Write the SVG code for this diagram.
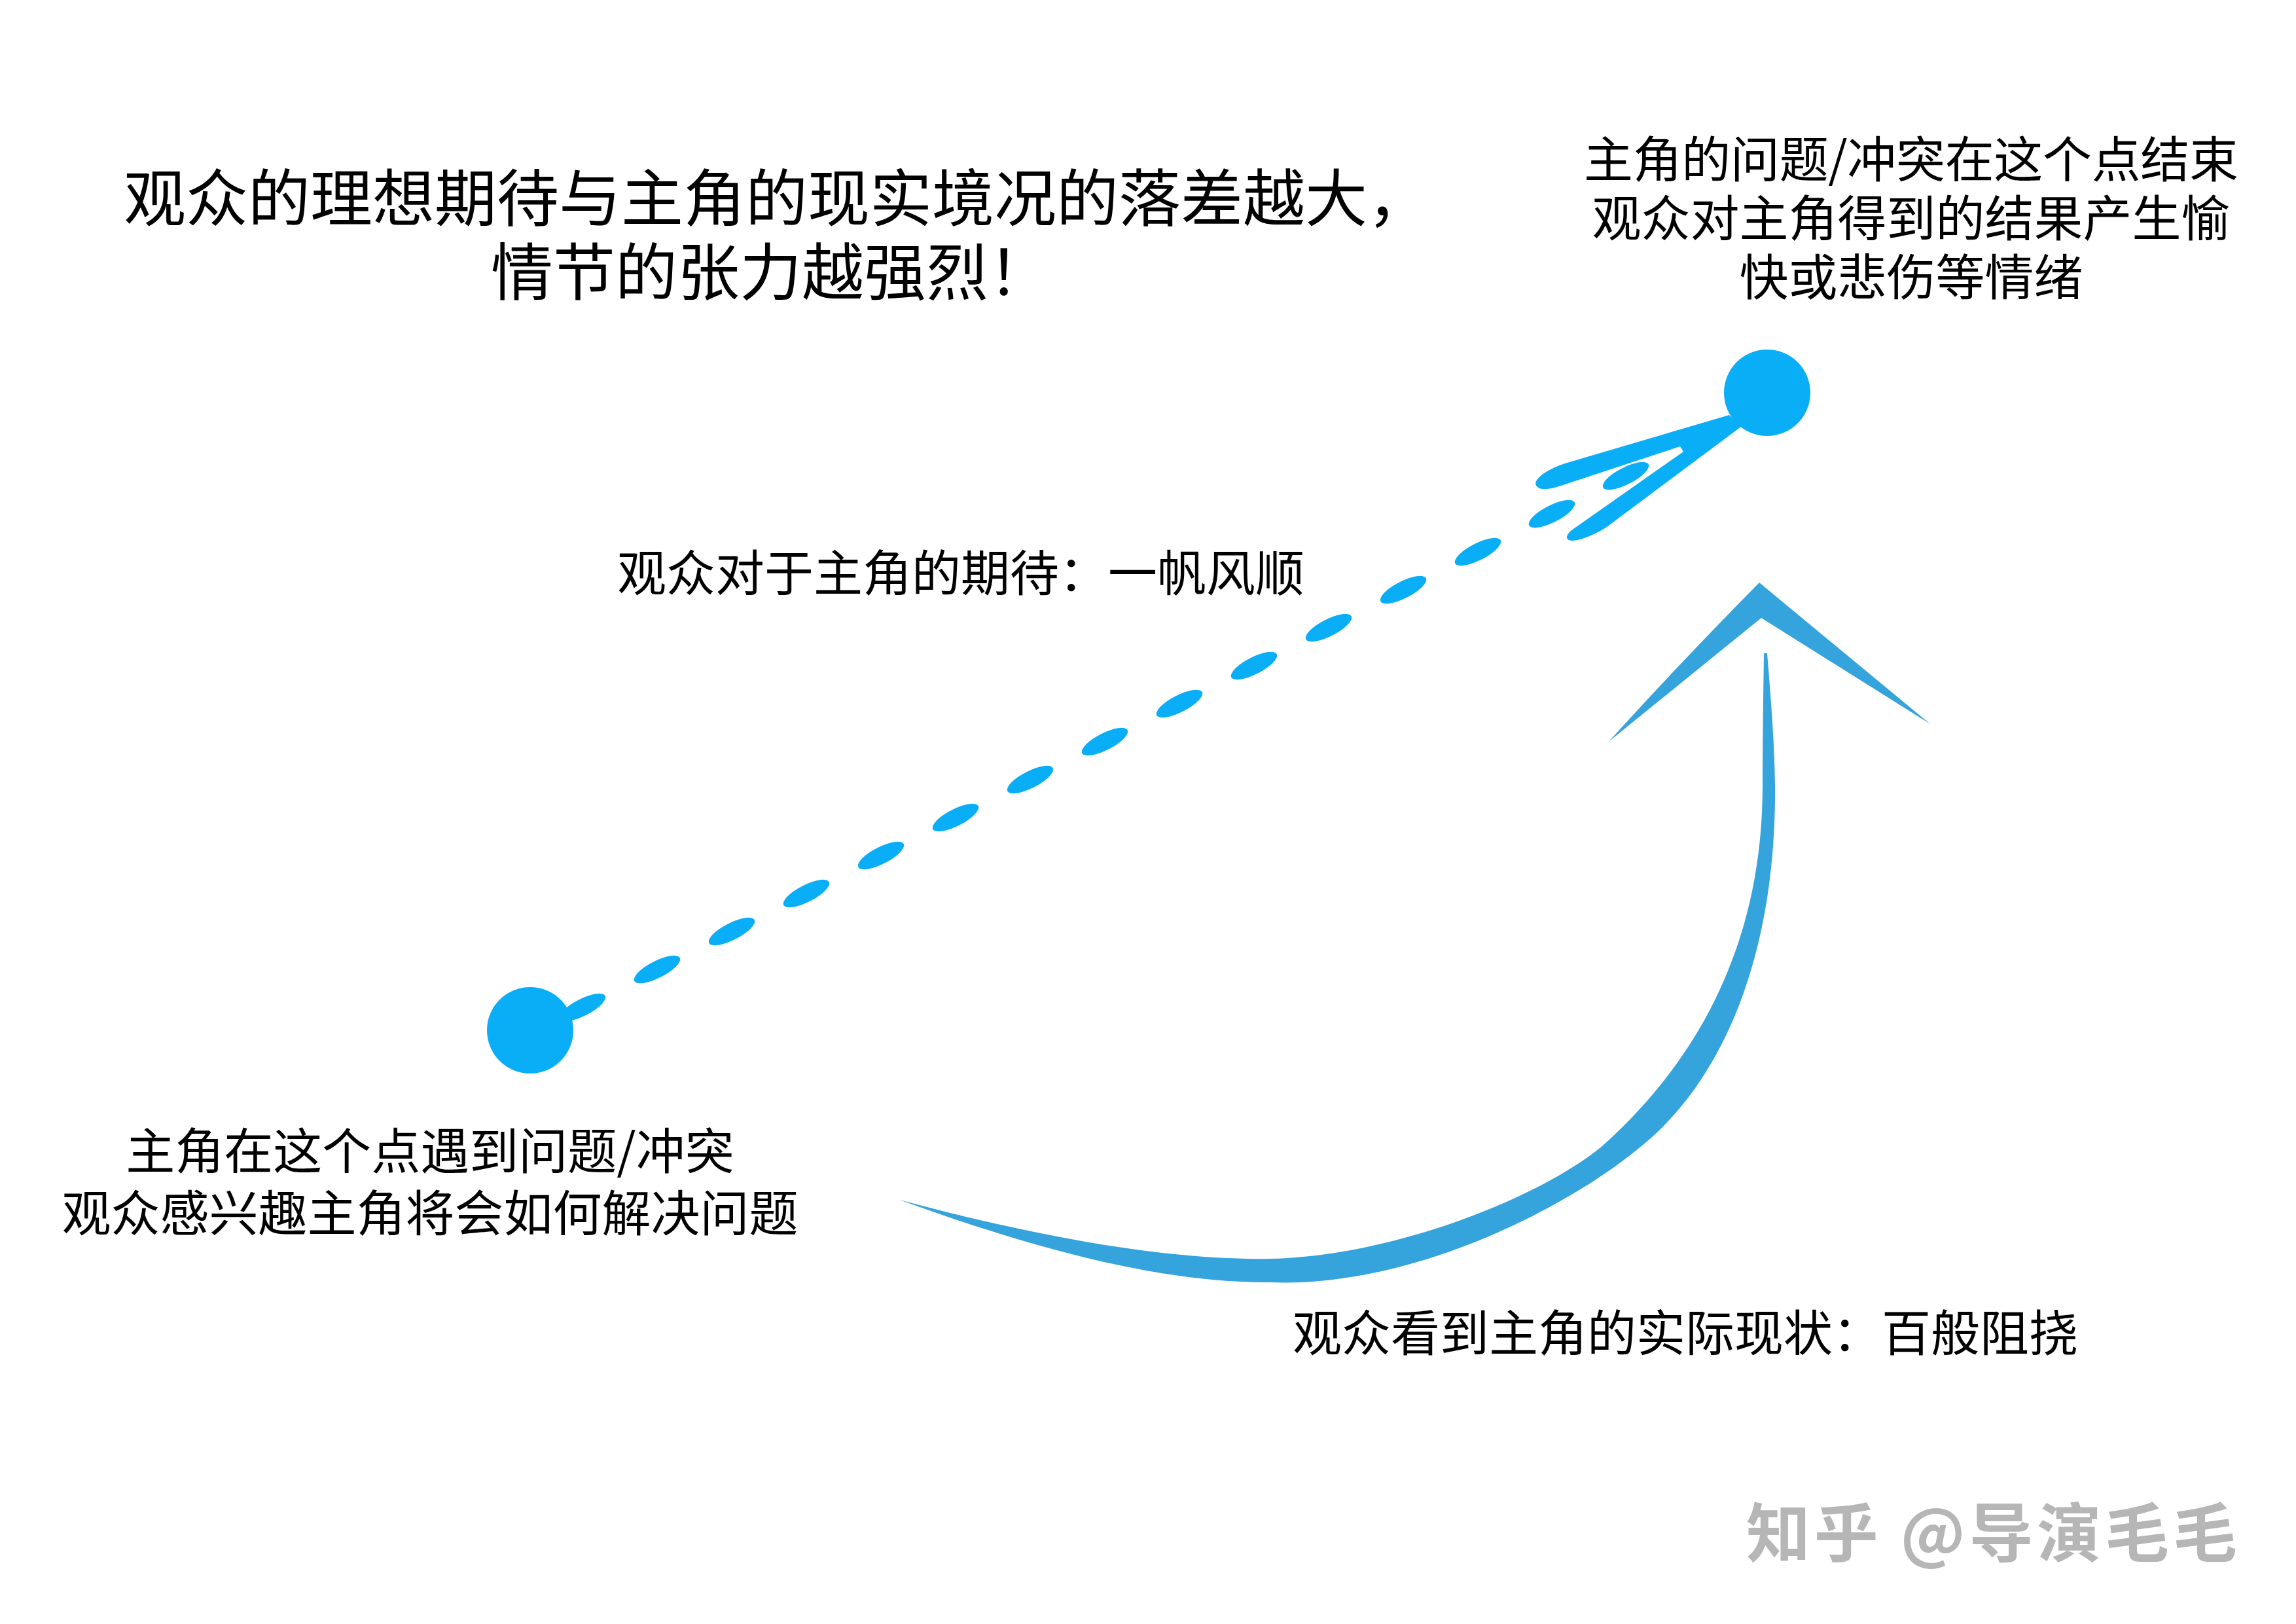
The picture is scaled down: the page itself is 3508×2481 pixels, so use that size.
<svg xmlns="http://www.w3.org/2000/svg" width="3508" height="2481" viewBox="0 0 3508 2481">
<style>
  .txt { font-family: "Noto Sans CJK SC", "Noto Sans", sans-serif; fill: #000000; }
  .title { font-size: 95px; font-weight: 400; }
  .lbl { font-size: 75px; }
  .dot { fill: #0aaef7; }
  .dash { fill: #0aaef7; }
  .arrow { fill: #35a3dc; }
  .wm { font-family: "Noto Sans CJK SC", "Noto Sans", sans-serif; font-size: 98px; font-weight: 700; fill: #b6b6b6; }
</style>
<rect x="0" y="0" width="3508" height="2481" fill="#ffffff"/>

<g id="title">
  <text class="txt title" x="189" y="338">观众的理想期待与主角的现实境况的落差越大，</text>
  <text class="txt title" x="750" y="451">情节的张力越强烈！</text>
</g>

<g id="connectors">
  <g id="expectation-line">
    <ellipse class="dash" cx="890" cy="1539" rx="39" ry="13" transform="rotate(-27 890 1539)"/>
    <ellipse class="dash" cx="1004" cy="1481" rx="39" ry="13" transform="rotate(-27 1004 1481)"/>
    <ellipse class="dash" cx="1118" cy="1423" rx="39" ry="13" transform="rotate(-27 1118 1423)"/>
    <ellipse class="dash" cx="1232" cy="1365" rx="39" ry="13" transform="rotate(-27 1232 1365)"/>
    <ellipse class="dash" cx="1346" cy="1307" rx="39" ry="13" transform="rotate(-27 1346 1307)"/>
    <ellipse class="dash" cx="1460" cy="1249" rx="39" ry="13" transform="rotate(-27 1460 1249)"/>
    <ellipse class="dash" cx="1574" cy="1191" rx="39" ry="13" transform="rotate(-27 1574 1191)"/>
    <ellipse class="dash" cx="1688" cy="1133" rx="39" ry="13" transform="rotate(-27 1688 1133)"/>
    <ellipse class="dash" cx="1802" cy="1075" rx="39" ry="13" transform="rotate(-27 1802 1075)"/>
    <ellipse class="dash" cx="1916" cy="1017" rx="39" ry="13" transform="rotate(-27 1916 1017)"/>
    <ellipse class="dash" cx="2030" cy="959" rx="39" ry="13" transform="rotate(-27 2030 959)"/>
    <ellipse class="dash" cx="2144" cy="901" rx="39" ry="13" transform="rotate(-27 2144 901)"/>
    <ellipse class="dash" cx="2258" cy="843" rx="39" ry="13" transform="rotate(-27 2258 843)"/>
    <ellipse class="dash" cx="2371" cy="785" rx="39" ry="13" transform="rotate(-27 2371 785)"/>
    <ellipse class="dash" cx="2484" cy="727" rx="39" ry="13" transform="rotate(-27 2484 727)"/>
    <path class="dash" d="M 2642 634 L 2391 708 C 2360 718 2340 735 2348 743 C 2354 750 2370 747 2385 742 L 2567 682 L 2572 690 L 2404 808 C 2392 816 2390 826 2402 826 C 2415 826 2440 815 2455 805 L 2660 652 Z"/>
  </g>
  <g id="reality-arrow">
    <path class="arrow" d="M 2695 998 C 2694 1070 2693 1140 2693 1200 C 2693 1480 2560 1650 2449 1750 C 2349 1834 2100 1930 1907 1923 C 1740 1920 1550 1880 1374 1833 C 1560 1900 1760 1960 1940 1959 C 2160 1968 2400 1842 2509 1750 C 2620 1660 2714 1480 2712 1200 C 2711 1130 2705 1060 2700 998 Z"/>
    <path class="arrow" d="M 2688 890 L 2949 1106 L 2691 944 L 2458 1133 Q 2560 1020 2688 890 Z"/>
  </g>
</g>

<g id="node-start">
  <circle class="dot" cx="810" cy="1574" r="66"/>
  <text class="txt lbl" x="657" y="1786" text-anchor="middle">主角在这个点遇到问题/冲突</text>
  <text class="txt lbl" x="657" y="1881" text-anchor="middle">观众感兴趣主角将会如何解决问题</text>
</g>

<g id="node-end">
  <circle class="dot" cx="2700" cy="600" r="66"/>
  <text class="txt lbl" x="2920" y="271" text-anchor="middle" textLength="1000" lengthAdjust="spacing">主角的问题/冲突在这个点结束</text>
  <text class="txt lbl" x="2920" y="361" text-anchor="middle">观众对主角得到的结果产生愉</text>
  <text class="txt lbl" x="2920" y="451" text-anchor="middle">快或悲伤等情绪</text>
</g>

<g id="label-expectation">
  <text class="txt lbl" x="943" y="903">观众对于主角的期待：一帆风顺</text>
</g>

<g id="label-reality">
  <text class="txt lbl" x="1975" y="2064">观众看到主角的实际现状：百般阻挠</text>
</g>

<g id="watermark">
  <text class="wm" x="2668" y="2378" textLength="750" lengthAdjust="spacing" xml:space="preserve">知乎 @导演毛毛</text>
</g>
</svg>
